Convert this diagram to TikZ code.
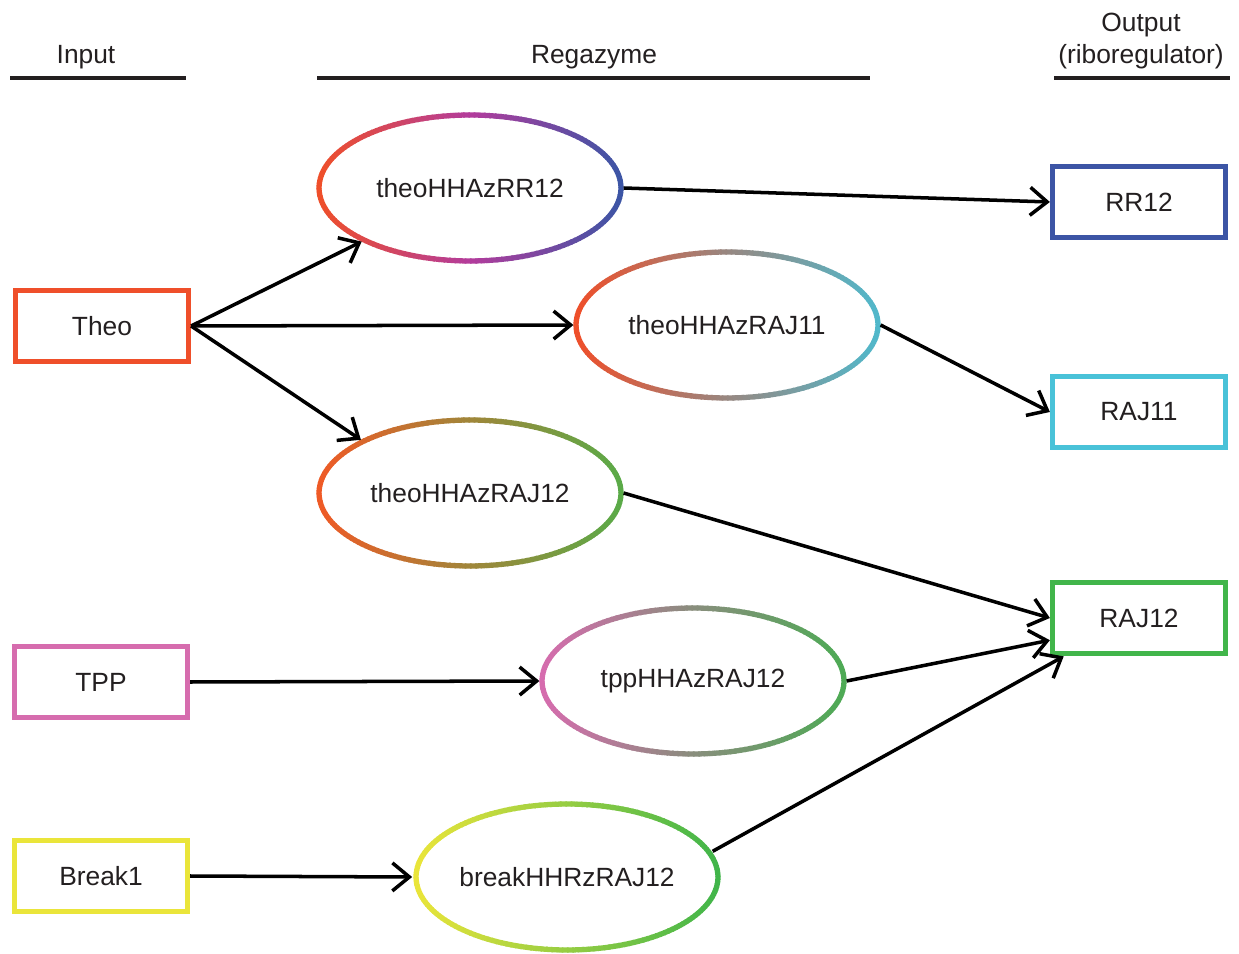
\documentclass[tikz,border=0pt]{standalone}
\usepackage{fontspec}
\setmainfont{Liberation Sans}
\usetikzlibrary{arrows.meta,shapes.geometric}

\definecolor{txt}{HTML}{231F20}
\definecolor{cRed}{HTML}{EF4F2A}
\definecolor{cMag}{HTML}{B33C9C}
\definecolor{cBlue}{HTML}{3C55A5}
\definecolor{cCyan}{HTML}{49C2D8}
\definecolor{cGreen}{HTML}{41B54A}
\definecolor{cPink}{HTML}{D66CAE}
\definecolor{cYel}{HTML}{EAE53A}
\definecolor{cOrng}{HTML}{EF5A26}

% shaded border round an ellipse node: node, left, middle, right colour
\newcommand{\ringshade}[4]{%
  \foreach \a in {0,2,...,358}{
    \pgfmathsetmacro{\s}{50*(1+cos(\a+1))}
    \pgfmathsetmacro{\p}{\s<50 ? 2*\s : 2*(\s-50)}
    \ifdim\s pt<50pt \colorlet{segcol}{#3!\p!#2}\else\colorlet{segcol}{#4!\p!#3}\fi
    \draw[segcol,line width=3pt] (#1.center) ++(\a:3.02cm and 1.46cm)
      arc[start angle=\a,end angle=\a+2.6,x radius=3.02cm,y radius=1.46cm];
  }%
}

\begin{document}
\begin{tikzpicture}[x=0.02cm,y=0.02cm,
  every node/.style={font=\fontsize{15}{18}\selectfont,text=txt},
  hdr/.style={anchor=base,inner sep=0pt},
  bar/.style={line width=2.8pt,txt},
  box/.style={draw=#1,line width=3pt,minimum width=3.46cm,minimum height=1.43cm},
  zyme/.style={ellipse,minimum width=6.04cm,minimum height=2.92cm,inner sep=0pt,outer sep=1.5pt},
  arr/.style={line width=2pt,-{Straight Barb[length=3.4mm,width=5.6mm]}}]
\useasboundingbox (0,0) rectangle (1239,953);

% column heads
\node[hdr] (hIn) at (86,889) {Input};
\node[hdr] (hZy) at (594,889) {Regazyme};
\node[hdr] (hOut) at (1141,921) {Output};
\node[hdr] (hRib) at (1141,889) {(riboregulator)};
\draw[bar] (10,875) -- (186,875);
\draw[bar] (317,875) -- (870,875);
\draw[bar] (1054,875) -- (1230,875);

% inputs
\node[box=cRed] (theo) at (102,627) {Theo};
\node[box=cPink] (tpp) at (101,271) {TPP};
\node[box=cYel] (brk) at (101,77) {Break1};

% outputs
\node[box=cBlue] (rr) at (1139,751) {RR12};
\node[box=cCyan] (raj11) at (1139,541) {RAJ11};
\node[box=cGreen] (raj12) at (1139,335) {RAJ12};

% regazymes
\node[zyme] (zRR) at (470,765) {theoHHAzRR12};
\node[zyme] (zRAJ11) at (727,628) {theoHHAzRAJ11};
\node[zyme] (zRAJ12) at (470,460) {theoHHAzRAJ12};
\node[zyme] (zTpp) at (693,272) {tppHHAzRAJ12};
\node[zyme] (zBrk) at (567,76) {breakHHRzRAJ12};

\ringshade{zRR}{cRed}{cMag}{cBlue}
\ringshade{zRAJ11}{cRed}{cRed!50!cCyan!85!gray}{cCyan}
\ringshade{zRAJ12}{cOrng}{cOrng!50!cGreen!80!brown}{cGreen}
\ringshade{zTpp}{cPink}{cPink!50!cGreen!80!gray}{cGreen}
\ringshade{zBrk}{cYel}{cYel!50!cGreen}{cGreen}

\draw[arr] (theo.east) -- (zRR);
\draw[arr] (theo.east) -- (zRAJ11.west);
\draw[arr] (theo.east) -- (zRAJ12.154);
\draw[arr] (tpp.east) -- (zTpp.west);
\draw[arr] (brk.east) -- (zBrk.west);

\draw[arr] (zRR.east) -- (rr.west);
\draw[arr] (zRAJ11.east) -- (raj11.west);
\draw[arr] (zRAJ12.east) -- (raj12.west);
\draw[arr] (zTpp.east) -- (raj12.194);
\draw[arr] (zBrk.10) -- (raj12.207);
\end{tikzpicture}
\end{document}
